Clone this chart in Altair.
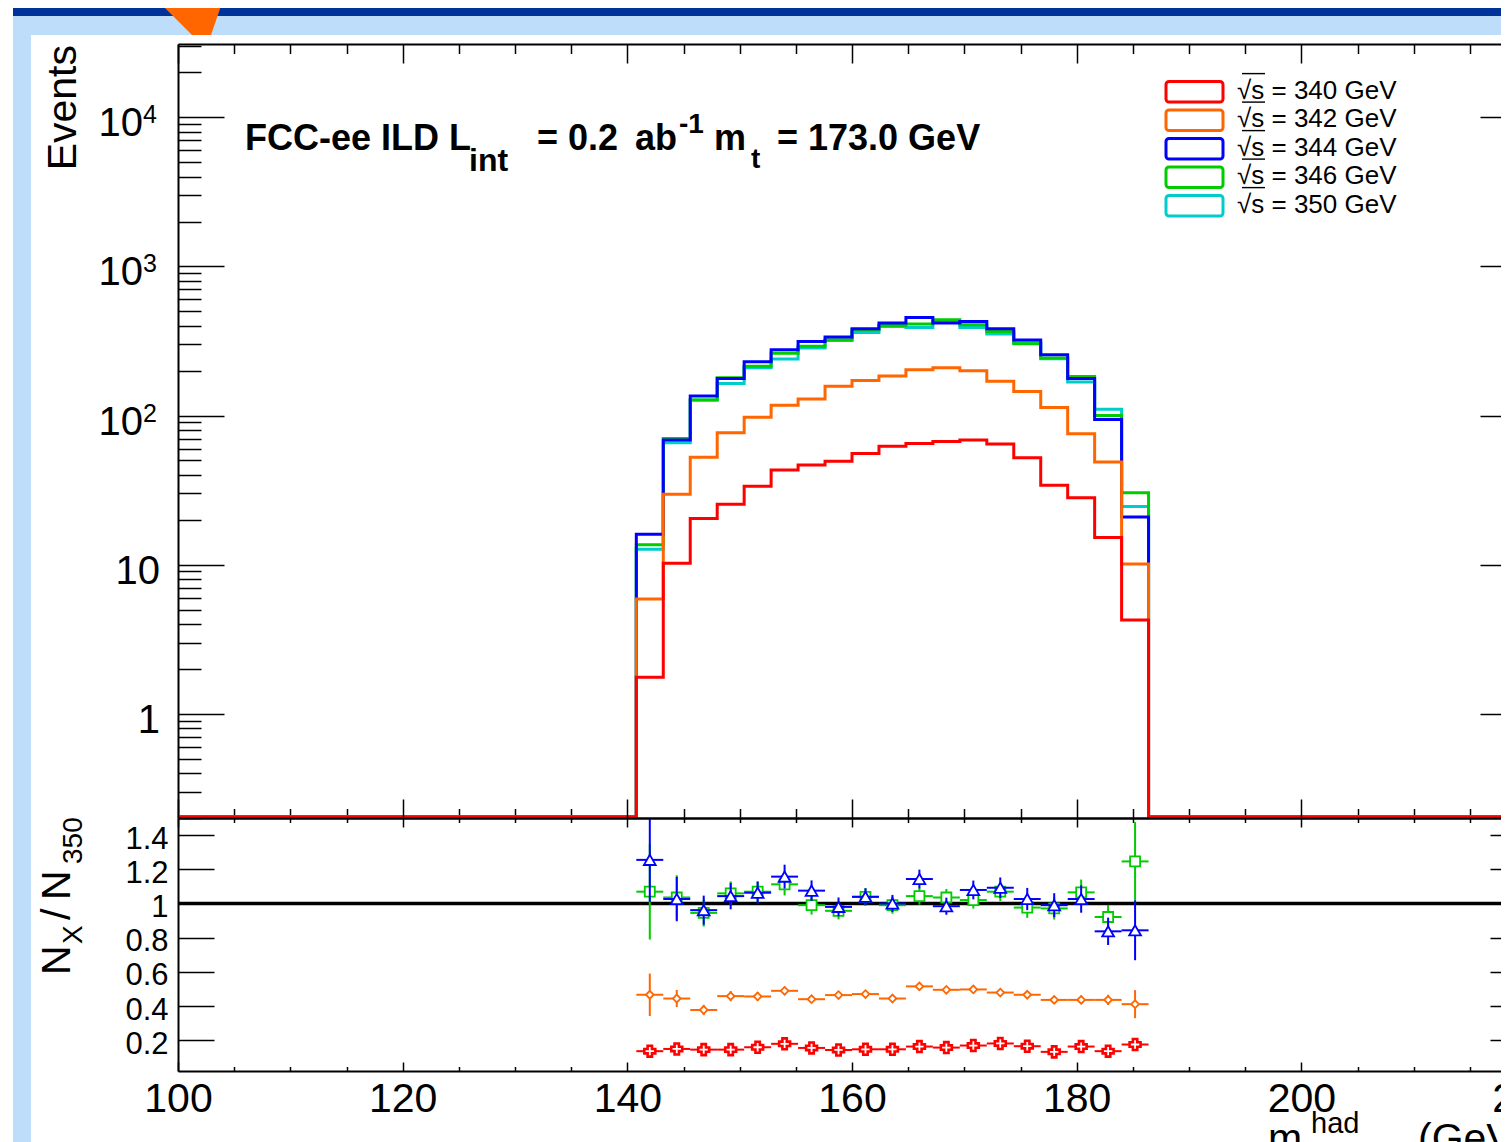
import altair as alt
import pandas as pd

# ---------------- data ----------------
BIN_EDGES = [140.8, 143.2, 145.6, 148.0, 150.4, 152.8, 155.2, 157.6, 160.0, 162.4,
             164.8, 167.2, 169.6, 172.0, 174.4, 176.8, 179.2, 181.6, 184.0, 186.4]
SQRT_S = ["340", "342", "344", "346", "350"]
SERIES_COLORS = ["#FF0000", "#FF6600", "#0000FF", "#00CC00", "#00CCCC"]

# events per bin, upper panel
N340 = [1.76, 10.2, 20.4, 25.4, 33.6, 43.1, 46.5, 49.4, 55.7, 62.3, 65.0, 67.0, 68.4, 64.3, 52.1, 34.1, 28.1, 15.2, 4.25]
N342 = [5.88, 29.6, 52.6, 76.6, 97.5, 117, 129, 157, 172, 184, 203, 209, 200, 170, 145, 113, 75.4, 48.7, 10.1]
N344 = [16.0, 68.4, 135, 177, 229, 276, 314, 336, 382, 417, 455, 417, 427, 382, 321, 256, 177, 94, 20.9]
N346 = [13.6, 70.2, 127, 179.5, 214, 262, 291, 322, 376, 402, 411, 438, 406, 366, 303, 243, 183, 100, 30.4]
N350 = [12.7, 65.6, 127, 164, 209, 239, 284, 318, 361, 396, 390, 427, 390, 352, 308, 240, 168, 110, 24.5]

# ratios N_X / N_350 and their errors, lower panel
R340 = [0.136, 0.149, 0.145, 0.145, 0.159, 0.179, 0.155, 0.143, 0.147, 0.147, 0.163, 0.157, 0.169, 0.181, 0.165, 0.132, 0.163, 0.136, 0.175]
E340 = [0.02, 0.015, 0.012, 0.012, 0.012, 0.012, 0.01, 0.01, 0.01, 0.01, 0.01, 0.01, 0.01, 0.01, 0.01, 0.012, 0.012, 0.012, 0.02]
R342 = [0.466, 0.444, 0.377, 0.458, 0.456, 0.489, 0.440, 0.464, 0.470, 0.444, 0.515, 0.495, 0.497, 0.479, 0.466, 0.436, 0.436, 0.436, 0.411]
E342 = [0.124, 0.05, 0.03, 0.03, 0.025, 0.025, 0.02, 0.02, 0.02, 0.02, 0.02, 0.02, 0.02, 0.02, 0.02, 0.02, 0.025, 0.03, 0.082]
R344 = [1.255, 1.026, 0.961, 1.043, 1.063, 1.157, 1.075, 0.98, 1.039, 1.0, 1.143, 0.984, 1.079, 1.092, 1.026, 0.99, 1.026, 0.837, 0.843]
E344 = [0.245, 0.13, 0.085, 0.077, 0.065, 0.07, 0.06, 0.055, 0.05, 0.05, 0.055, 0.05, 0.055, 0.06, 0.065, 0.07, 0.08, 0.08, 0.175]
R346 = [1.069, 1.035, 0.945, 1.059, 1.069, 1.112, 0.99, 0.957, 1.039, 0.99, 1.043, 1.035, 1.02, 1.069, 0.976, 0.971, 1.065, 0.921, 1.246]
E346 = [0.28, 0.13, 0.08, 0.07, 0.06, 0.065, 0.055, 0.05, 0.05, 0.05, 0.05, 0.05, 0.05, 0.055, 0.06, 0.065, 0.075, 0.07, 0.23]

X_MAJOR = [100, 120, 140, 160, 180, 200, 220]
X_MINOR = [105, 110, 115, 125, 130, 135, 145, 150, 155, 165, 170, 175, 185, 190, 195, 205, 210, 215]
Y_MAJOR = [1, 10, 100, 1000, 10000]
Y_MINOR = [0.2, 0.3, 0.4, 0.5, 0.6, 0.7, 0.8, 0.9,
           2, 3, 4, 5, 6, 7, 8, 9,
           20, 30, 40, 50, 60, 70, 80, 90,
           200, 300, 400, 500, 600, 700, 800, 900,
           2000, 3000, 4000, 5000, 6000, 7000, 8000, 9000,
           20000, 30000]
R_TICKS = [0.2, 0.4, 0.6, 0.8, 1, 1.2, 1.4]

# ---------------- layout / style ----------------
FONT = "Liberation Sans"
W, H = 1323, 1027          # visible plot area (both panels)
XR = 1348                  # full x range of the frame (extends past the page edge)
UP_H = 774                 # upper panel height
XS = alt.Scale(domain=[100, 220], range=[0, XR], nice=False, zero=False)
YU = alt.Scale(type="log", domain=[0.2, 31000], range=[UP_H, 0], nice=False)
YL = alt.Scale(domain=[0.02, 1.5], range=[H, UP_H], nice=False, zero=False)
COL = dict(zip(SQRT_S, SERIES_COLORS))

dummy = pd.DataFrame({"d": [0]})


def tick_axis(orient, offset, values, size, domain=False, z=0):
    return alt.Axis(orient=orient, offset=offset, values=values, tickSize=size, ticks=True,
                    labels=False, domain=domain, grid=False, title=None, zindex=z,
                    tickColor="black", tickWidth=1.5, domainColor="black", domainWidth=2)


def hist_df(vals):
    xs = [100.0] + BIN_EDGES[:-1] + [BIN_EDGES[-1], 220.0]
    vs = [0.0] + list(vals) + [0.0, 0.0]
    return pd.DataFrame({"x": xs, "v": vs})


def hist_layer(vals, color, xaxis=None, yaxis=None):
    return (alt.Chart(hist_df(vals))
            .transform_calculate(vp="max(datum.v, 0.2035)")
            .mark_line(interpolate="step-after", strokeWidth=3, color=color)
            .encode(x=alt.X("x:Q", scale=XS, axis=xaxis),
                    y=alt.Y("vp:Q", scale=YU, axis=yaxis)))


def text_at(text, x, y, size, **kw):
    return alt.Chart(dummy).mark_text(text=text, fontSize=size, font=FONT, color="black",
                                      **kw).encode(x=alt.value(x), y=alt.value(y))


def rect_at(x0, x1, y0, y1, color):
    return alt.Chart(dummy).mark_rect(color=color).encode(
        x=alt.value(x0), x2=alt.value(x1), y=alt.value(y0), y2=alt.value(y1))


# ---------------- upper panel ----------------
ylab_plain = pd.DataFrame({"v": [1, 10], "t": ["1", "10"]})
ylab_pow = pd.DataFrame({"v": [100, 1000, 10000], "b": ["10", "10", "10"], "p": ["2", "3", "4"]})

upper = alt.layer(
    hist_layer(N350, COL["350"], tick_axis("top", -UP_H, X_MAJOR, 19, True, 1),
               tick_axis("right", -W, Y_MAJOR, 46, True)),
    hist_layer(N346, COL["346"], tick_axis("top", -UP_H, X_MINOR, 9.5),
               tick_axis("right", -W, Y_MINOR, 23)),
    hist_layer(N344, COL["344"], tick_axis("bottom", -H, X_MAJOR, 19, True),
               tick_axis("left", -XR, Y_MAJOR, 46, True)),
    hist_layer(N342, COL["342"], tick_axis("bottom", -H, X_MINOR, 9.5),
               tick_axis("left", -XR, Y_MINOR, 23)),
    hist_layer(N340, COL["340"]),
    alt.Chart(ylab_plain).mark_text(align="right", baseline="alphabetic", dy=19, fontSize=40,
                                    font=FONT, color="black")
    .encode(x=alt.value(-18), y=alt.Y("v:Q", scale=YU, axis=None), text="t:N"),
    alt.Chart(ylab_pow).mark_text(align="right", baseline="alphabetic", dy=19, fontSize=40,
                                  font=FONT, color="black")
    .encode(x=alt.value(-35), y=alt.Y("v:Q", scale=YU, axis=None), text="b:N"),
    alt.Chart(ylab_pow).mark_text(align="left", baseline="alphabetic", dy=6, fontSize=25,
                                  font=FONT, color="black")
    .encode(x=alt.value(-35), y=alt.Y("v:Q", scale=YU, axis=None), text="p:N"),
).resolve_axis(x="independent", y="independent")


# ---------------- lower panel ----------------
def ratio_base(vals, errs):
    df = pd.DataFrame({"lo": BIN_EDGES[:-1], "hi": BIN_EDGES[1:], "r": vals, "e": errs})
    return alt.Chart(df).transform_calculate(
        c="(datum.lo + datum.hi) / 2", rlo="datum.r - datum.e", rhi="datum.r + datum.e")


def ratio_layers(vals, errs, color, shape, size, sw=1.8,
                 xa=(None, None, None), ya=(None, None, None)):
    base = ratio_base(vals, errs)
    ey = base.mark_rule(color=color, strokeWidth=2).encode(
        x=alt.X("c:Q", scale=XS, axis=xa[0]), y=alt.Y("rlo:Q", scale=YL, axis=ya[0]), y2="rhi:Q")
    ex = base.mark_rule(color=color, strokeWidth=2).encode(
        x=alt.X("lo:Q", scale=XS, axis=xa[1]), x2="hi:Q", y=alt.Y("r:Q", scale=YL, axis=ya[1]))
    pt = base.mark_point(shape=shape, size=size, filled=True, fill="white", stroke=color,
                         strokeWidth=sw, opacity=1).encode(
        x=alt.X("c:Q", scale=XS, axis=xa[2]), y=alt.Y("r:Q", scale=YL, axis=ya[2]))
    return [ey, ex, pt]


one_df = pd.DataFrame({"x0": [100], "x1": [220], "y": [1]})
one_line = alt.Chart(one_df).mark_rule(color="black", strokeWidth=3.5).encode(
    x=alt.X("x0:Q", scale=XS, axis=tick_axis("top", -H, X_MAJOR, 9, True)),
    x2="x1:Q",
    y=alt.Y("y:Q", scale=YL, axis=tick_axis("right", -W, R_TICKS, 36, True)))

x_label_axis = alt.Axis(orient="bottom", offset=0, values=X_MAJOR, ticks=False, domain=False,
                        grid=False, title=None, labels=True, labelFont=FONT, labelFontSize=41,
                        labelColor="black", labelPadding=8, labelFlush=False)
r_label_axis = alt.Axis(orient="left", offset=0, values=R_TICKS, ticks=False, domain=False,
                        grid=False, title=None, labels=True, labelFont=FONT, labelFontSize=31,
                        labelColor="black", labelPadding=10, labelFlush=False,
                        labelBaseline="middle", labelOffset=4,
                        labelExpr="datum.value == 1 ? '1' : format(datum.value, '.1f')")

lower_layers = [one_line]
lower_layers += ratio_layers(R342, E342, COL["342"], "diamond", 60,
                             xa=(tick_axis("top", -H, X_MINOR, 4.5), x_label_axis,
                                 tick_axis("bottom", -(H - UP_H), X_MAJOR, 9, True)),
                             ya=(r_label_axis, tick_axis("left", -XR, R_TICKS, 36, True), None))
lower_layers += ratio_layers(R340, E340, COL["340"], "cross", 120, sw=2.6,
                             xa=(tick_axis("bottom", -(H - UP_H), X_MINOR, 4.5), None, None))
lower_layers += ratio_layers(R346, E346, COL["346"], "square", 100)
lower_layers += ratio_layers(R344, E344, COL["344"], "triangle-up", 140)
lower = alt.layer(*lower_layers).resolve_axis(x="independent", y="independent")

# ---------------- legend ----------------
leg_df = pd.DataFrame({"row": list(range(len(SQRT_S))), "s": SQRT_S,
                       "lab": ["√s = %s GeV" % s for s in SQRT_S]})
LEG_Y = alt.Scale(domain=[0, 4], range=[47.7, 161.7], nice=False, zero=False)
COLS = alt.Scale(domain=SQRT_S, range=SERIES_COLORS)
leg_base = alt.Chart(leg_df).transform_calculate(
    top="datum.row - 0.36", bot="datum.row + 0.36",
    o1="datum.row - 0.66", o2="datum.row - 0.61")
legend = alt.layer(
    leg_base.mark_rect(fillOpacity=0, strokeWidth=3, cornerRadius=3).encode(
        x=alt.value(988), x2=alt.value(1045),
        y=alt.Y("top:Q", scale=LEG_Y, axis=None), y2="bot:Q",
        stroke=alt.Stroke("s:N", scale=COLS, legend=None)),
    leg_base.mark_text(align="left", baseline="alphabetic", dy=7, fontSize=26, font=FONT,
                       color="black").encode(
        x=alt.value(1059), y=alt.Y("row:Q", scale=LEG_Y, axis=None), text="lab:N"),
    leg_base.mark_rect(color="black").encode(
        x=alt.value(1064), x2=alt.value(1087),
        y=alt.Y("o1:Q", scale=LEG_Y, axis=None), y2="o2:Q"),
)

# ---------------- slide decoration & free text ----------------
TRI = "M -0.825 -0.4375 L 0.825 -0.4375 L 0.525 0.4375 L 0.05 0.4375 Z"
deco = alt.layer(
    rect_at(-165, W, -36, -28, "#003399"),
    rect_at(-165, W, -28, -9, "#BEDDFB"),
    rect_at(-165, -147, -28, 1100, "#BEDDFB"),
    alt.Chart(dummy).mark_point(shape=TRI, size=6400, filled=True, color="#FF6600",
                                opacity=1, strokeWidth=0).encode(x=alt.value(12), y=alt.value(-26.5)),
    # y titles
    text_at("Events", -102, 1, 41, angle=270, align="right", baseline="alphabetic"),
    text_at("N", -108, 931, 41, angle=270, align="left", baseline="alphabetic"),
    text_at("X", -96, 900, 28, angle=270, align="left", baseline="alphabetic"),
    text_at("/", -108, 876, 41, angle=270, align="left", baseline="alphabetic"),
    text_at("N", -108, 856, 41, angle=270, align="left", baseline="alphabetic"),
    text_at("350", -96, 820, 28, angle=270, align="left", baseline="alphabetic"),
    # x title (cut by the page edge)
    text_at("m", 1090, 1108, 41, align="left", baseline="alphabetic"),
    text_at("had", 1133, 1089, 29, align="left", baseline="alphabetic"),
    text_at("(GeV)", 1240, 1108, 41, align="left", baseline="alphabetic"),
    # header text
    text_at("FCC-ee ILD L", 67, 106, 36, align="left", baseline="alphabetic", fontWeight="bold"),
    text_at("int", 291, 127, 32, align="left", baseline="alphabetic", fontWeight="bold"),
    text_at("= 0.2", 359, 106, 36, align="left", baseline="alphabetic", fontWeight="bold"),
    text_at("ab", 457, 106, 36, align="left", baseline="alphabetic", fontWeight="bold"),
    text_at("-1", 501, 89, 28, align="left", baseline="alphabetic", fontWeight="bold"),
    text_at("m", 536, 106, 36, align="left", baseline="alphabetic", fontWeight="bold"),
    text_at("t", 573, 124, 28, align="left", baseline="alphabetic", fontWeight="bold"),
    text_at("= 173.0 GeV", 599, 106, 36, align="left", baseline="alphabetic", fontWeight="bold"),
)

chart = (alt.layer(deco, upper, lower, legend)
         .resolve_scale(y="independent")
         .resolve_axis(x="independent", y="independent")
         .properties(width=W, height=H,
                     autosize=alt.AutoSizeParams(type="none"),
                     padding={"left": 170, "top": 36, "right": 0, "bottom": 71})
         .configure_view(strokeOpacity=0)
         .configure(background="white"))

chart.save("out.html", embed_options={"renderer": "svg", "actions": False})
